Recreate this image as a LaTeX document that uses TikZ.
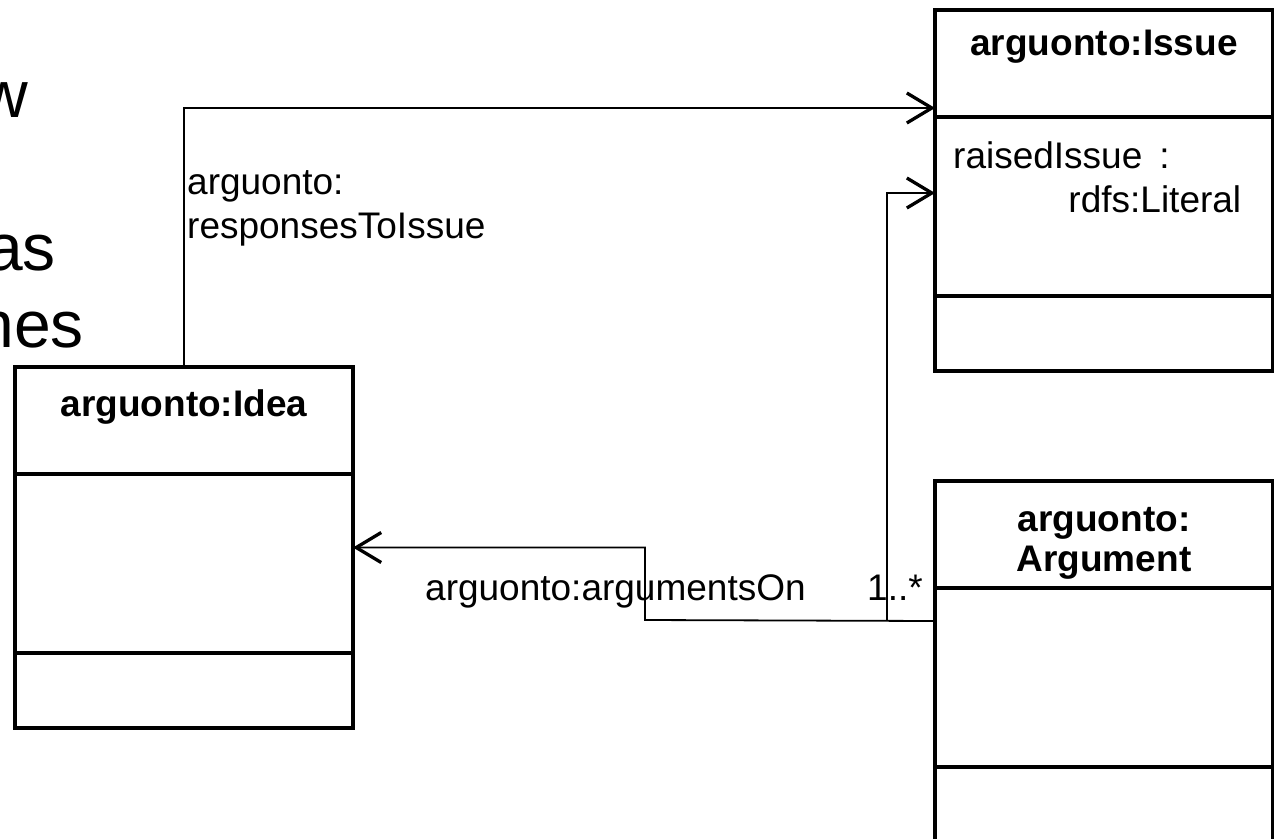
\documentclass[tikz,border=0pt]{standalone}
\usepackage{fontspec}
\setmainfont{Liberation Sans}
\usetikzlibrary{arrows.meta,positioning}
\tikzset{
  classbox/.style={draw,line width=3.3pt,outer sep=0pt,inner sep=0pt,
    minimum width=338pt,minimum height=361pt},
  classname/.style={font=\fontsize{37}{40}\selectfont\bfseries,inner sep=0pt,align=center},
  roletext/.style={font=\fontsize{37}{44}\selectfont,inner sep=0pt},
  slidetext/.style={font=\fontsize{66}{77}\selectfont,inner sep=0pt,anchor=base east},
  assoc/.style={line width=1.8pt,-{Straight Barb[length=25pt,width=30pt,line width=3.3pt]}},
  link/.style={line width=1.8pt}
}
\begin{document}
\begin{tikzpicture}[x=1pt,y=-1pt]
  \useasboundingbox (0,0) rectangle (1274,838);
  \clip (0,0) rectangle (1274,838);

  % slide text running off the left edge
  \node[slidetext] (txtw)   at (28,117) {w};
  \node[slidetext] (txtas)  at (56,270) {as};
  \node[slidetext] (txtnes) at (84,347) {nes};

  % the three classes
  \node[classbox,anchor=north west] (idea)  at (15,367) {};
  \node[classbox,anchor=north west] (issue) at (935,10) {};
  \node[classbox,below=110pt of issue] (argument) {};
  \foreach \c in {idea,issue,argument}
    \draw[line width=3.3pt]
      ([yshift=-107pt]\c.north west) -- ([yshift=-107pt]\c.north east)
      ([yshift=-286pt]\c.north west) -- ([yshift=-286pt]\c.north east);

  % class names (base of a two-line node is its last line)
  \node[classname,anchor=base] (ideaname)     at ([yshift=-49pt]idea.north)     {arguonto:Idea};
  \node[classname,anchor=base] (issuename)    at ([yshift=-45pt]issue.north)    {arguonto:Issue};
  \node[classname,anchor=base] (argumentname) at ([yshift=-90pt]argument.north) {arguonto:\\Argument};

  \node[roletext,anchor=base west,text width=288pt,align=left] (raised)
    at ([xshift=18pt,yshift=-158pt]issue.north west) {raisedIssue\hspace{17pt}:\\\mbox{}\hfill rdfs:Literal};

  % associations
  \coordinate (argout) at ([yshift=-140pt]argument.north west);
  \coordinate (fork) at (887,620);
  \coordinate (bend) at (645,620);
  \draw[assoc] (idea.north) |- ([yshift=-98pt]issue.north west);
  \draw[assoc] (argout) -- (bend) |- (idea.east);
  \draw[assoc] (fork) |- ([yshift=-183pt]issue.north west);

  \node[roletext,anchor=base west,align=left] (respname) at (187,238) {arguonto:\\responsesToIssue};
  \node[roletext,anchor=base west] (argsname) at (425,600) {arguonto:argumentsOn};
  \node[roletext,anchor=base west] (mult)     at (867,600) {1..*};
\end{tikzpicture}
\end{document}
